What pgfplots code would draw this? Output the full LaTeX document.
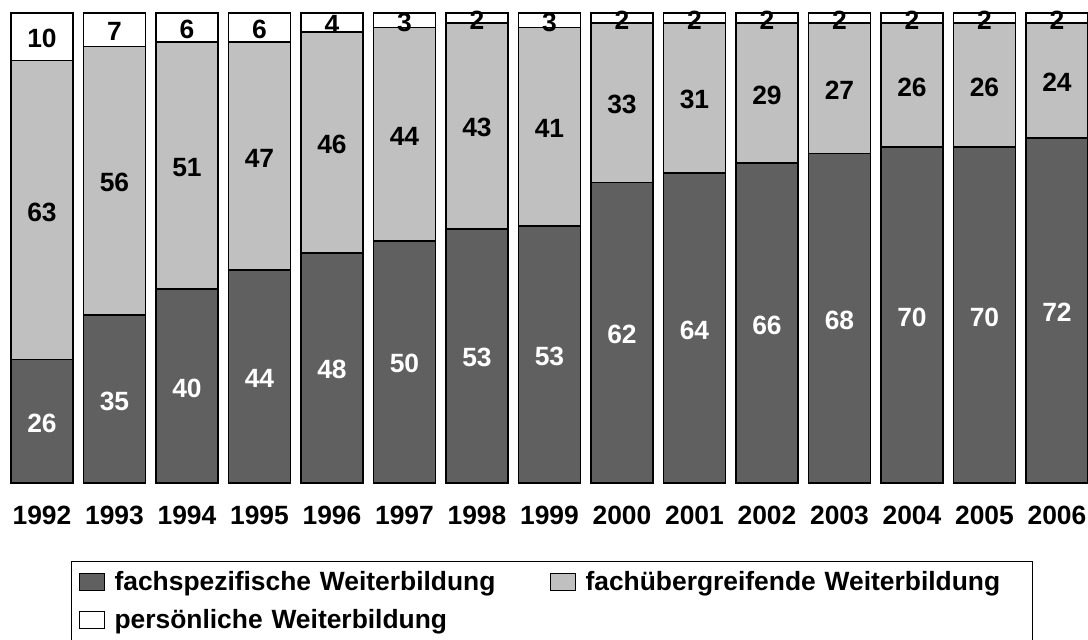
\documentclass[border=0pt]{standalone}
\usepackage{pgfplots}
\pgfplotsset{compat=1.18}
\usepackage{pgfplotstable}
\usepackage{fontspec}
\setmainfont{Liberation Sans}
\definecolor{darkg}{HTML}{606060}
\definecolor{lightg}{HTML}{C0C0C0}
\newcommand\lf{\fontsize{13.2}{15}\selectfont\bfseries}

\pgfplotstableread{
x a b c
0 26 63 10
1 35 56 7
2 40 51 6
3 44 47 6
4 48 46 4
5 50 44 3
6 53 43 2
7 53 41 3
8 62 33 2
9 64 31 2
10 66 29 2
11 68 27 2
12 70 26 2
13 70 26 2
14 72 24 2
}\data

\begin{document}
\begin{tikzpicture}
\useasboundingbox (0,0) rectangle (544pt,319.5pt);
\clip (0,0) rectangle (544pt,319.5pt);
\begin{axis}[
 at={(2.875pt,78pt)}, anchor=south west,
 scale only axis, width=541.2pt, height=235pt,
 xmin=-0.5, xmax=14.43, ymin=0, ymax=100,
 clip=false,
 axis line style={draw=none},
 major tick length=0pt,
 ytick=\empty,
 xtick={0,1,2,3,4,5,6,7,8,9,10,11,12,13,14},
 xticklabels={1992,1993,1994,1995,1996,1997,1998,1999,2000,2001,2002,2003,2004,2005,2006},
 xticklabel style={font=\lf, anchor=center, yshift=-16.4pt},
 /pgf/number format/assume math mode=true,
 legend columns=2,
 reverse legend,
 legend style={at={(0,0)}, anchor=north west, xshift=32.6pt, yshift=-39pt,
   draw=black, line width=0.6pt, inner xsep=3.5pt, inner ysep=5.5pt,
   column sep=5pt, row sep=7pt, font=\lf,
   nodes={inner sep=0pt, text height=9pt, text depth=3pt, anchor=west},
   /tikz/column 2/.style={text width=212.5pt, align=left},
   /tikz/column 4/.style={text width=220pt, align=left}},
 legend image code/.code={\draw[#1, draw=black, line width=0.5pt] (0pt,-2.75pt) rectangle (12.5pt,5.75pt);},
]
\addplot[ybar, bar width=31pt, bar shift=0pt, fill=white, draw=black, line width=0.9pt]
  table[x=x, y expr={(\thisrow{a}+\thisrow{b}+\thisrow{c})*100/(\thisrow{a}+\thisrow{b}+\thisrow{c})}] \data;
\addlegendentry{persönliche Weiterbildung}
\addplot[ybar, bar width=31pt, bar shift=0pt, fill=lightg, draw=black, line width=0.9pt]
  table[x=x, y expr={(\thisrow{a}+\thisrow{b})*100/(\thisrow{a}+\thisrow{b}+\thisrow{c})}] \data;
\addlegendentry{fachübergreifende Weiterbildung}
\addplot[ybar, bar width=31pt, bar shift=0pt, fill=darkg, draw=black, line width=0.9pt]
  table[x=x, y expr={\thisrow{a}*100/(\thisrow{a}+\thisrow{b}+\thisrow{c})}] \data;
\addlegendentry{fachspezifische Weiterbildung}

\addplot[forget plot, draw=none, no marks, nodes near coords, point meta=explicit symbolic,
  every node near coord/.append style={anchor=center, yshift=-1pt, font=\lf, text=white}]
  table[x=x, y expr={\thisrow{a}*50/(\thisrow{a}+\thisrow{b}+\thisrow{c})}, meta=a] \data;
\addplot[forget plot, draw=none, no marks, nodes near coords, point meta=explicit symbolic,
  every node near coord/.append style={anchor=center, yshift=-1pt, font=\lf, text=black}]
  table[x=x, y expr={(\thisrow{a}+0.5*\thisrow{b})*100/(\thisrow{a}+\thisrow{b}+\thisrow{c})}, meta=b] \data;
\addplot[forget plot, draw=none, no marks, nodes near coords, point meta=explicit symbolic,
  every node near coord/.append style={anchor=center, yshift=-1pt, font=\lf, text=black}]
  table[x=x, y expr={(\thisrow{a}+\thisrow{b}+0.5*\thisrow{c})*100/(\thisrow{a}+\thisrow{b}+\thisrow{c})}, meta=c] \data;
\end{axis}
\end{tikzpicture}
\end{document}
